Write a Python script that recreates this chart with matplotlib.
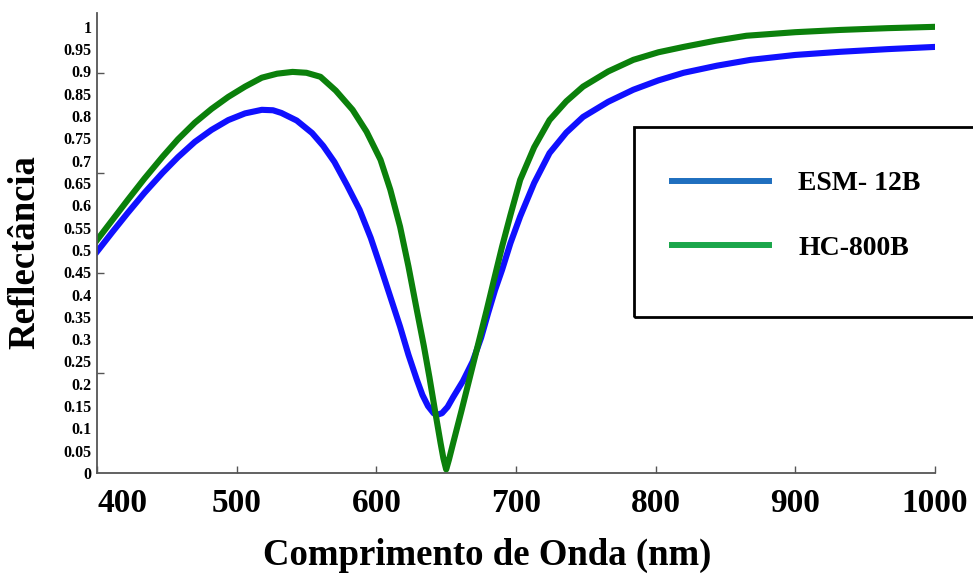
import matplotlib
matplotlib.use("Agg")
import matplotlib.pyplot as plt
from matplotlib.lines import Line2D
from matplotlib.patches import Rectangle

plt.rcParams['font.family'] = ['Liberation Serif', 'DejaVu Serif']
plt.rcParams['font.weight'] = 'bold'

# readings
wl_esm = [400, 411, 422, 434, 447, 458, 470, 482, 494, 506, 518, 526, 532, 543,
          554, 562, 570, 579, 588, 596, 603, 610, 617, 623, 629, 633, 637, 641,
          644, 647, 651, 655, 662, 669, 675, 680, 685, 690, 696, 703, 713, 724,
          736, 748, 766, 784, 802, 820, 844, 868, 900, 932, 966, 1000]
r_esm = [0.496, 0.540, 0.583, 0.628, 0.673, 0.708, 0.742, 0.769, 0.791, 0.806,
         0.814, 0.813, 0.807, 0.790, 0.762, 0.733, 0.697, 0.645, 0.590, 0.527,
         0.462, 0.395, 0.328, 0.265, 0.209, 0.175, 0.150, 0.134, 0.131, 0.134,
         0.148, 0.170, 0.206, 0.250, 0.303, 0.358, 0.410, 0.455, 0.515, 0.575,
         0.650, 0.717, 0.763, 0.798, 0.832, 0.859, 0.880, 0.897, 0.913, 0.926,
         0.937, 0.944, 0.950, 0.955]

wl_hc = [400, 411, 422, 434, 447, 458, 470, 482, 494, 506, 518, 529, 540, 550,
         560, 571, 583, 593, 603, 610, 617, 623, 629, 634, 638, 642, 646, 648,
         650, 652, 655, 661, 667, 673, 679, 684, 690, 696, 703, 713, 724, 736,
         748, 766, 784, 802, 820, 843, 865, 900, 932, 966, 1000]
r_hc = [0.522, 0.567, 0.612, 0.660, 0.709, 0.748, 0.785, 0.816, 0.843, 0.866,
        0.886, 0.895, 0.899, 0.897, 0.888, 0.857, 0.814, 0.765, 0.702, 0.635,
        0.552, 0.463, 0.365, 0.285, 0.215, 0.140, 0.067, 0.033, 0.008, 0.030,
        0.067, 0.140, 0.215, 0.290, 0.365, 0.430, 0.507, 0.578, 0.657, 0.730,
        0.791, 0.833, 0.866, 0.900, 0.926, 0.943, 0.955, 0.969, 0.980, 0.988,
        0.993, 0.997, 1.0]

labels = ["ESM- 12B", "HC-800B"]
x_ticks = [400, 500, 600, 700, 800, 900, 1000]
y_ticks = [round(0.05 * i, 2) for i in range(21)]
y_tick_labels = ["0" if v == 0 else ("1" if v == 1 else f"{v:g}") for v in y_ticks]
y_marks = [0.224, 0.448, 0.673, 0.897]

W, H = 973, 584
fig = plt.figure(figsize=(W / 100, H / 100), dpi=100)
ax = fig.add_axes([97 / W, 1 - 473 / H, 838 / W, 460 / H])

ax.plot(wl_esm, r_esm, color='#1010ff', lw=4.4, solid_joinstyle='round')
ax.plot(wl_hc, r_hc, color='#0b800b', lw=4.4, solid_joinstyle='round')

ax.set_xlim(400, 1000)
ax.set_ylim(0, 1.031)

for s in ['top', 'right']:
    ax.spines[s].set_visible(False)
for s in ['left', 'bottom']:
    ax.spines[s].set_color('#555555')
    ax.spines[s].set_linewidth(1.3)

ax.set_xticks(x_ticks)
ax.set_xticklabels([str(v) for v in x_ticks], fontsize=24, fontweight='bold')
ax.get_xticklabels()[0].set_horizontalalignment('left')
ax.tick_params(axis='x', direction='in', length=5, width=1, color='#555555', pad=11)

ax.set_yticks(y_ticks)
ax.set_yticklabels(y_tick_labels, fontsize=11.5, fontweight='bold')
ax.set_yticks(y_marks, minor=True)
ax.tick_params(axis='y', which='major', length=0, pad=4)
ax.tick_params(axis='y', which='minor', direction='in', length=5, width=1, color='#555555')

fig.text(25 / W, 1 - 252 / H, "Reflectância", rotation=90, ha='center', va='center',
         fontsize=26.5, fontweight='bold')
fig.text(487 / W, 1 - 555 / H, "Comprimento de Onda (nm)", ha='center', va='center',
         fontsize=26.5, fontweight='bold')

# legend box runs off the right edge
fig.patches.append(Rectangle((634 / W, 1 - 317 / H), 360 / W, 190 / H,
                             transform=fig.transFigure, fill=False, lw=2,
                             edgecolor='black', clip_on=False))
handles = [Line2D([], [], color='#1f6fbf', lw=4.3),
           Line2D([], [], color='#1aa64a', lw=4.3)]
ax.legend(handles, labels, loc='upper left', bbox_to_anchor=(672 / W, 1 - 171 / H),
          bbox_transform=fig.transFigure, frameon=False, borderpad=0, borderaxespad=0,
          handlelength=3.5, handletextpad=1.05, labelspacing=1.41,
          prop={'size': 20, 'weight': 'bold'})

fig.savefig("out.png", dpi=100)
